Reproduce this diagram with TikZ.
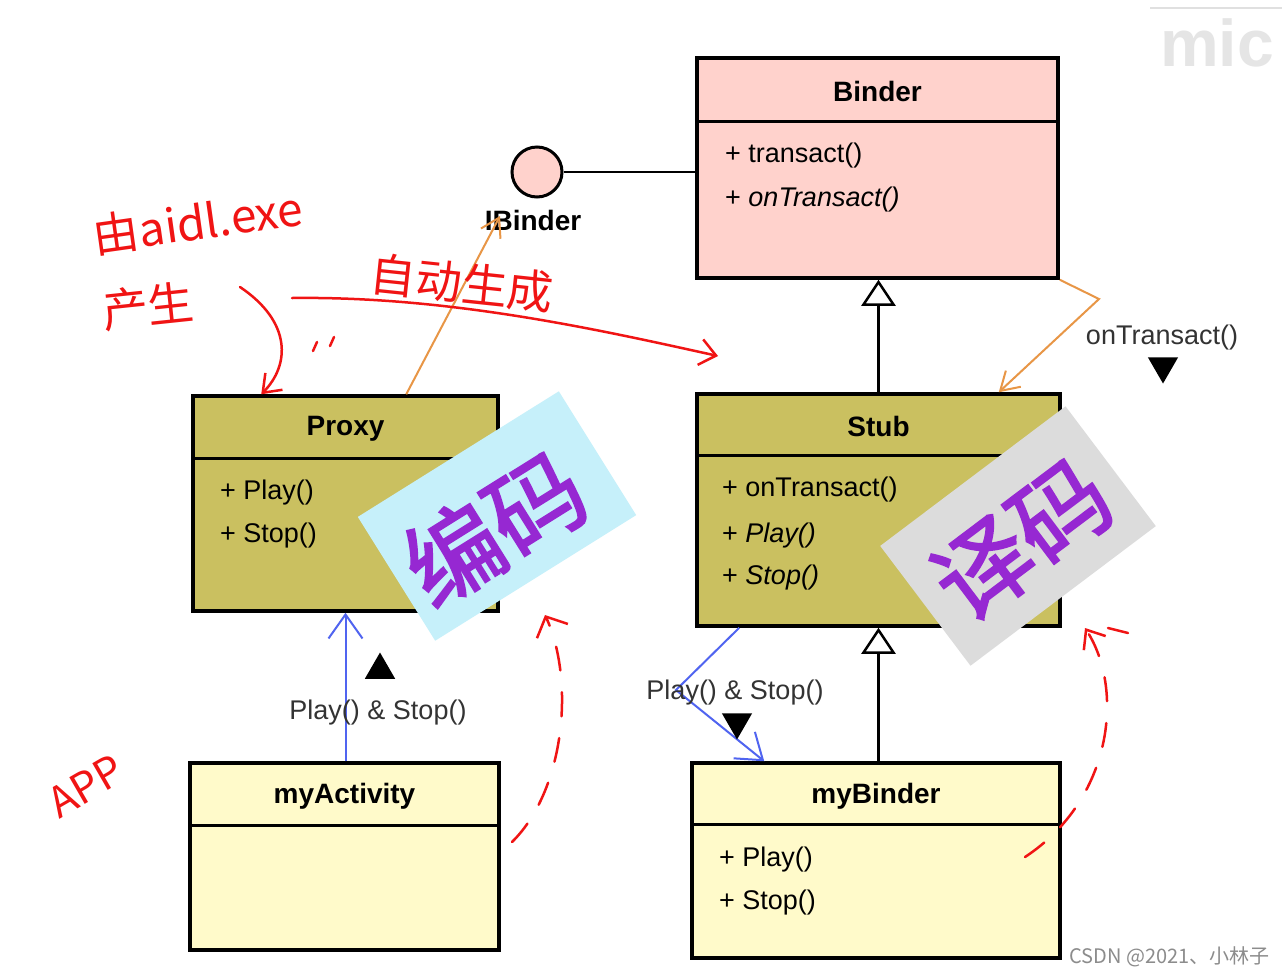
\documentclass[tikz,border=0pt]{standalone}
\usepackage{fontspec}
\setmainfont{Liberation Sans}
\newfontfamily\cjk{Noto Sans CJK SC}
\newfontfamily\cjkheavy[FakeBold=2]{Noto Sans CJK SC}
\usetikzlibrary{arrows.meta, shapes.geometric, positioning}

\definecolor{binderpink}{RGB}{255,210,204}
\definecolor{stubkhaki}{RGB}{202,192,96}
\definecolor{paleyellow}{RGB}{255,250,202}
\definecolor{callblue}{RGB}{80,100,240}
\definecolor{implorange}{RGB}{232,150,70}
\definecolor{inkred}{RGB}{240,20,20}
\definecolor{stickercyan}{RGB}{198,240,250}
\definecolor{stickergray}{RGB}{220,220,220}
\definecolor{stickerpurple}{RGB}{150,40,210}

\begin{document}
\begin{tikzpicture}[x=1pt, y=-1pt,
  umlclass/.style={draw, line width=3.5pt, inner sep=0pt},
  umltitle/.style={font=\fontsize{28}{30}\selectfont\bfseries},
  member/.style={anchor=west, inner sep=0pt, font=\fontsize{27}{30}\selectfont},
  msg/.style={inner sep=0pt, text=black!80, font=\fontsize{27}{30}\selectfont},
  inherit/.style={line width=2.5pt, -{Triangle[length=26pt,width=34pt,fill=white]}},
  call/.style={draw=callblue, line width=2pt, -{Straight Barb[length=24pt,width=34pt]}},
  impl/.style={draw=implorange, line width=2pt, -{Straight Barb[length=18pt,width=22pt]}},
  marker/.style={regular polygon, regular polygon sides=3, fill=black, inner sep=0pt, minimum size=35pt},
  sticker/.style={minimum width=237pt, minimum height=146pt, inner sep=0pt},
  stickertext/.style={text=stickerpurple, font=\fontsize{96}{96}\selectfont\cjkheavy},
  ink/.style={draw=inkred, line width=2.5pt, line cap=round},
  scrawl/.style={text=inkred, inner sep=0pt, font=\fontsize{46}{50}\selectfont\cjk}]

  \useasboundingbox[fill=white] (0,0) rectangle (1282,975);

  % watermarks
  \draw[black!12, line width=1.5pt] (1150,8) -- (1282,8);
  \node[anchor=north west, inner sep=0pt, text=black!10, font=\fontsize{66}{66}\selectfont\bfseries] (mic) at (1160,18) {mic};
  \node[anchor=east, inner sep=0pt, text=black!45, font=\fontsize{20}{22}\selectfont\cjk] (csdn) at (1270,957) {CSDN @2021、小林子};

  % classes
  \node[umlclass, fill=binderpink, minimum width=361pt, minimum height=220pt] (binder) at (877.5,168) {};
  \draw[line width=2.5pt] ([yshift=-65pt]binder.north west) -- ([yshift=-65pt]binder.north east);
  \node[umltitle] (bindertitle) at ([yshift=-35pt]binder.north) {Binder};
  \node[member] (bindertransact) at (725,156) {+ transact()};
  \node[member] (binderontransact) at (725,200) {+ \itshape onTransact()};

  \node[umlclass, fill=stubkhaki, minimum width=305pt, minimum height=215pt] (proxy) at (345.5,503.5) {};
  \draw[line width=2.5pt] ([yshift=-64pt]proxy.north west) -- ([yshift=-64pt]proxy.north east);
  \node[umltitle] (proxytitle) at ([yshift=-35pt]proxy.north) {Proxy};
  \node[member] (proxyplay) at (220,493) {+ Play()};
  \node[member] (proxystop) at (220,536) {+ Stop()};

  \node[umlclass, fill=stubkhaki, minimum width=363pt, minimum height=232pt] (stub) at (878.5,510) {};
  \draw[line width=2.5pt] ([yshift=-63pt]stub.north west) -- ([yshift=-63pt]stub.north east);
  \node[umltitle] (stubtitle) at ([yshift=-34pt]stub.north) {Stub};
  \node[member] (stubontransact) at (722,490) {+ onTransact()};
  \node[member] (stubplay) at (722,536) {+ \itshape Play()};
  \node[member] (stubstop) at (722,578) {+ \itshape Stop()};

  \node[umlclass, fill=paleyellow, minimum width=309pt, minimum height=187pt] (myactivity) at (344.5,856.5) {};
  \draw[line width=2.5pt] ([yshift=-64pt]myactivity.north west) -- ([yshift=-64pt]myactivity.north east);
  \node[umltitle] (myactivitytitle) at ([yshift=-35pt]myactivity.north) {myActivity};

  \node[umlclass, fill=paleyellow, minimum width=368pt, minimum height=195pt] (mybinder) at (876,860.5) {};
  \draw[line width=2.5pt] ([yshift=-63pt]mybinder.north west) -- ([yshift=-63pt]mybinder.north east);
  \node[umltitle] (mybindertitle) at ([yshift=-35pt]mybinder.north) {myBinder};
  \node[member] (mybinderplay) at (719,860) {+ Play()};
  \node[member] (mybinderstop) at (719,903) {+ Stop()};

  % interface lollipop
  \node[circle, draw, fill=binderpink, line width=3pt, minimum size=50pt, inner sep=0pt] (ibinder) at (537,172) {};
  \draw[line width=2pt] (ibinder.east) -- (ibinder -| binder.west);
  \node[umltitle] (ibinderlabel) at (533,220) {IBinder};
  \coordinate (ibindertip) at (500,216);

  % connectors
  \draw[inherit] (stub.north) -- (stub.north |- binder.south);
  \draw[inherit] (stub.south |- mybinder.north) -- (stub.south);
  \draw[call] (proxy.south |- myactivity.north) -- (proxy.south);
  \draw[call] ([xshift=44pt]stub.south west) -- (676,690) -- ([xshift=74pt]mybinder.north west);
  \draw[impl] ([xshift=215pt]proxy.north west) -- (ibindertip);
  \draw[impl] (binder.south east) -- (1099,299) -- ([xshift=-63pt]stub.north east);

  % message labels
  \node[msg] (playleft) at (378,713) {Play() \& Stop()};
  \node[marker] (upmark) at (380,670) {};
  \node[msg] (playright) at (735,693) {Play() \& Stop()};
  \node[marker, shape border rotate=180] (downmarkA) at (737,722) {};
  \node[msg] (ontransactlabel) at (1162,338) {onTransact()};
  \node[marker, shape border rotate=180] (downmarkB) at (1163,366) {};

  % stickers
  \node[sticker, fill=stickercyan, rotate=32] (encode) at (497,516) {};
  \node[stickertext, rotate=32] (encodetext) at (494,528) {编码};
  \node[sticker, fill=stickergray, rotate=37, minimum width=232pt, minimum height=150pt] (decode) at (1018,536) {};
  \node[stickertext, rotate=37] (decodetext) at (1022,540) {译码};

  % handwriting
  \node[scrawl, rotate=8] (aidlnote) at (198,222) {由aidl.exe};
  \node[scrawl, rotate=6] (makenote) at (148,306) {产生};
  \node[scrawl, rotate=-6] (autonote) at (462,283) {自动生成};
  \node[scrawl, rotate=30, font=\fontsize{42}{44}\selectfont\cjk] (appnote) at (86,786) {APP};
  \draw[ink, -{Straight Barb[length=16pt,width=26pt]}] (292,298) .. controls (450,296) and (600,330) .. (718,356);
  \draw[ink, -{Straight Barb[length=16pt,width=24pt]}] (240,287) .. controls (292,322) and (290,365) .. ([xshift=70pt]proxy.north west);
  \draw[ink] (313,351) -- (317,342) (330,346) -- (334,337);
  \draw[ink, dash pattern=on 24pt off 22pt, -{Straight Barb[length=16pt,width=34pt]}] (512,842) .. controls (565,790) and (575,680) .. (545,615);
  \draw[ink, dash pattern=on 24pt off 22pt, -{Straight Barb[length=16pt,width=26pt]}] (1025,857) .. controls (1112,800) and (1125,690) .. (1085,628);
  \draw[ink] (1108,628) -- (1128,633);
\end{tikzpicture}
\end{document}
